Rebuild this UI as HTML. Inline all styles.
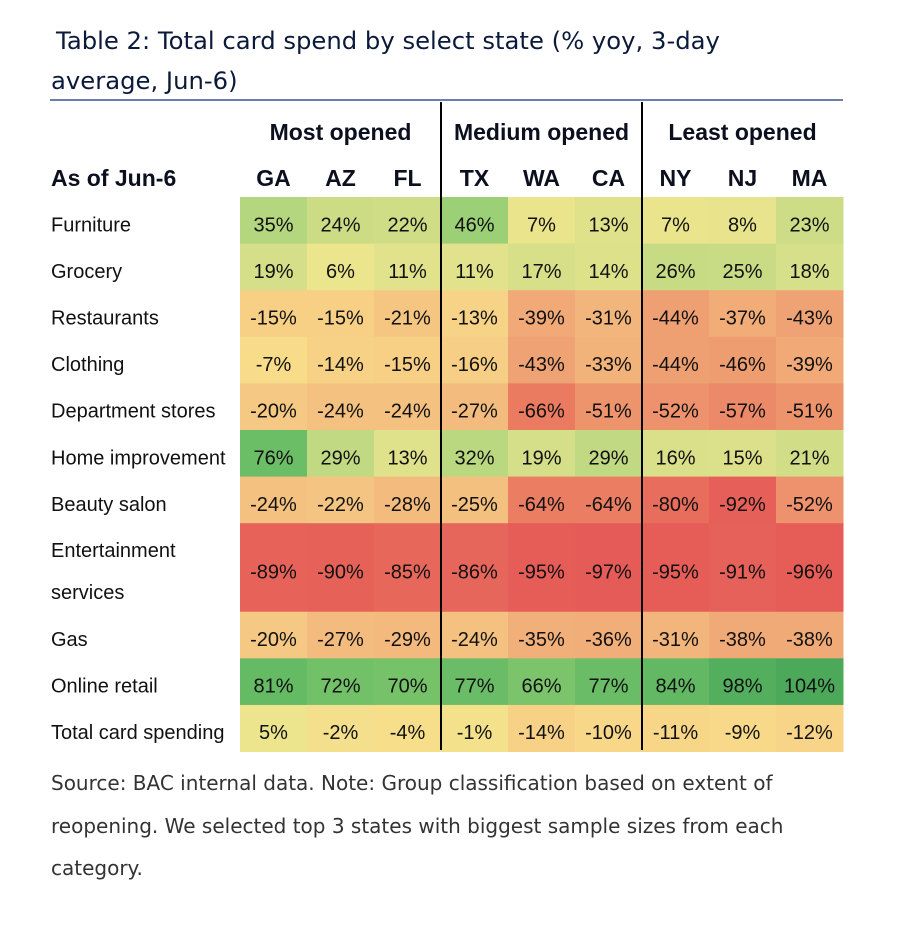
<!DOCTYPE html>
<html><head><meta charset="utf-8"><style>
body{margin:0;background:#fff;width:918px;height:930px;overflow:hidden;font-family:"Liberation Sans Narrow","Liberation Sans",sans-serif}
svg{display:block}
</style></head><body>
<svg id="chart" width="918" height="930" xmlns="http://www.w3.org/2000/svg">
<text x="56" y="49" font-family="DejaVu Sans, sans-serif" font-size="24.3" fill="#0b1a3a">Table 2: Total card spend by select state (% yoy, 3-day</text>
<text x="51" y="89" font-family="DejaVu Sans, sans-serif" font-size="24.3" fill="#0b1a3a">average, Jun-6)</text>
<rect x="50" y="99" width="793" height="2" fill="#6b7fa8"/>
<g id="cells"></g>
<g id="labels"></g>
<text x="51" y="790" font-family="DejaVu Sans, sans-serif" font-size="20" fill="#333">Source: BAC internal data. Note: Group classification based on extent of</text>
<text x="51" y="833" font-family="DejaVu Sans, sans-serif" font-size="20" fill="#333">reopening. We selected top 3 states with biggest sample sizes from each</text>
<text x="51" y="875" font-family="DejaVu Sans, sans-serif" font-size="20" fill="#333">category.</text>
</svg>
<script>
const groups=["Most opened","Medium opened","Least opened"];
const states=["GA","AZ","FL","TX","WA","CA","NY","NJ","MA"];
const categories=["Furniture","Grocery","Restaurants","Clothing","Department stores","Home improvement","Beauty salon","Entertainment services","Gas","Online retail","Total card spending"];
const values=[
[35,24,22,46,7,13,7,8,23],
[19,6,11,11,17,14,26,25,18],
[-15,-15,-21,-13,-39,-31,-44,-37,-43],
[-7,-14,-15,-16,-43,-33,-44,-46,-39],
[-20,-24,-24,-27,-66,-51,-52,-57,-51],
[76,29,13,32,19,29,16,15,21],
[-24,-22,-28,-25,-64,-64,-80,-92,-52],
[-89,-90,-85,-86,-95,-97,-95,-91,-96],
[-20,-27,-29,-24,-35,-36,-31,-38,-38],
[81,72,70,77,66,77,84,98,104],
[5,-2,-4,-1,-14,-10,-11,-9,-12]];
const NS="http://www.w3.org/2000/svg";
const x0=240,colW=67,y0=197,rowH=46.6;
function colX(i){return x0+i*colW;}
function rowY(i){return y0+i*rowH+(i>7?rowH*0.9:0);}
function rowHeight(i){return i===7?rowH*1.9:rowH;}
const stops=[[-100,[229,88,86]],[-64,[234,125,98]],[-43,[239,162,116]],[-20,[245,200,131]],[-7,[249,220,138]],[5,[237,229,142]],[20,[211,222,136]],[35,[180,214,126]],[46,[156,208,119]],[76,[107,190,102]],[104,[76,169,90]]];
function color(v){
  if(v<=stops[0][0])return "rgb("+stops[0][1]+")";
  for(let k=1;k<stops.length;k++){if(v<=stops[k][0]){const a=stops[k-1],b=stops[k],t=(v-a[0])/(b[0]-a[0]);
    return "rgb("+a[1].map((c,j)=>Math.round(c+(b[1][j]-c)*t)).join(",")+")";}}
  return "rgb("+stops[stops.length-1][1]+")";
}
function mk(tag,attrs,parent,txt){const e=document.createElementNS(NS,tag);for(const k in attrs)e.setAttribute(k,attrs[k]);if(txt!==undefined)e.textContent=txt;parent.appendChild(e);return e;}
const cells=document.getElementById("cells"),labels=document.getElementById("labels");
values.forEach((row,r)=>{
  row.forEach((v,c)=>{
    const rc=mk("rect",{x:colX(c),y:rowY(r),width:colW+0.5,height:rowHeight(r)+0.5,fill:color(v)},cells);
    
    
    const t=mk("text",{x:colX(c)+colW/2,y:rowY(r)+rowHeight(r)/2+11,"text-anchor":"middle","font-size":"20",fill:"#111"},labels,v+"%");
    
    
  });
  if(r===7){
    const a=mk("text",{x:51,y:rowY(r)+34,"font-size":"20",fill:"#111"},labels,"Entertainment");
    
    
    const b=mk("text",{x:51,y:rowY(r)+76,"font-size":"20",fill:"#111"},labels,"services");
    
    
  } else {
    const l=mk("text",{x:51,y:rowY(r)+rowHeight(r)/2+11,"font-size":"20",fill:"#111"},labels,categories[r]);
    
    
  }
});
states.forEach((s,c)=>{
  const t=mk("text",{x:colX(c)+colW/2,y:186,"text-anchor":"middle","font-size":"23","font-weight":"bold",fill:"#0b0f1e"},labels,s);
  
  
});
groups.forEach((g,i)=>{
  const t=mk("text",{x:colX(i*3)+colW*1.5,y:140,"text-anchor":"middle","font-size":"23","font-weight":"bold",fill:"#0b0f1e"},labels,g);
  
  
});
const h=mk("text",{x:51,y:186,"font-size":"23","font-weight":"bold",fill:"#0b0f1e"},labels,"As of Jun-6");


[3,6].forEach(c=>{
  const ln=mk("rect",{x:colX(c)-1,y:102,width:2,height:648,fill:"#000"},labels);
  
  
});
</script>
</body></html>
